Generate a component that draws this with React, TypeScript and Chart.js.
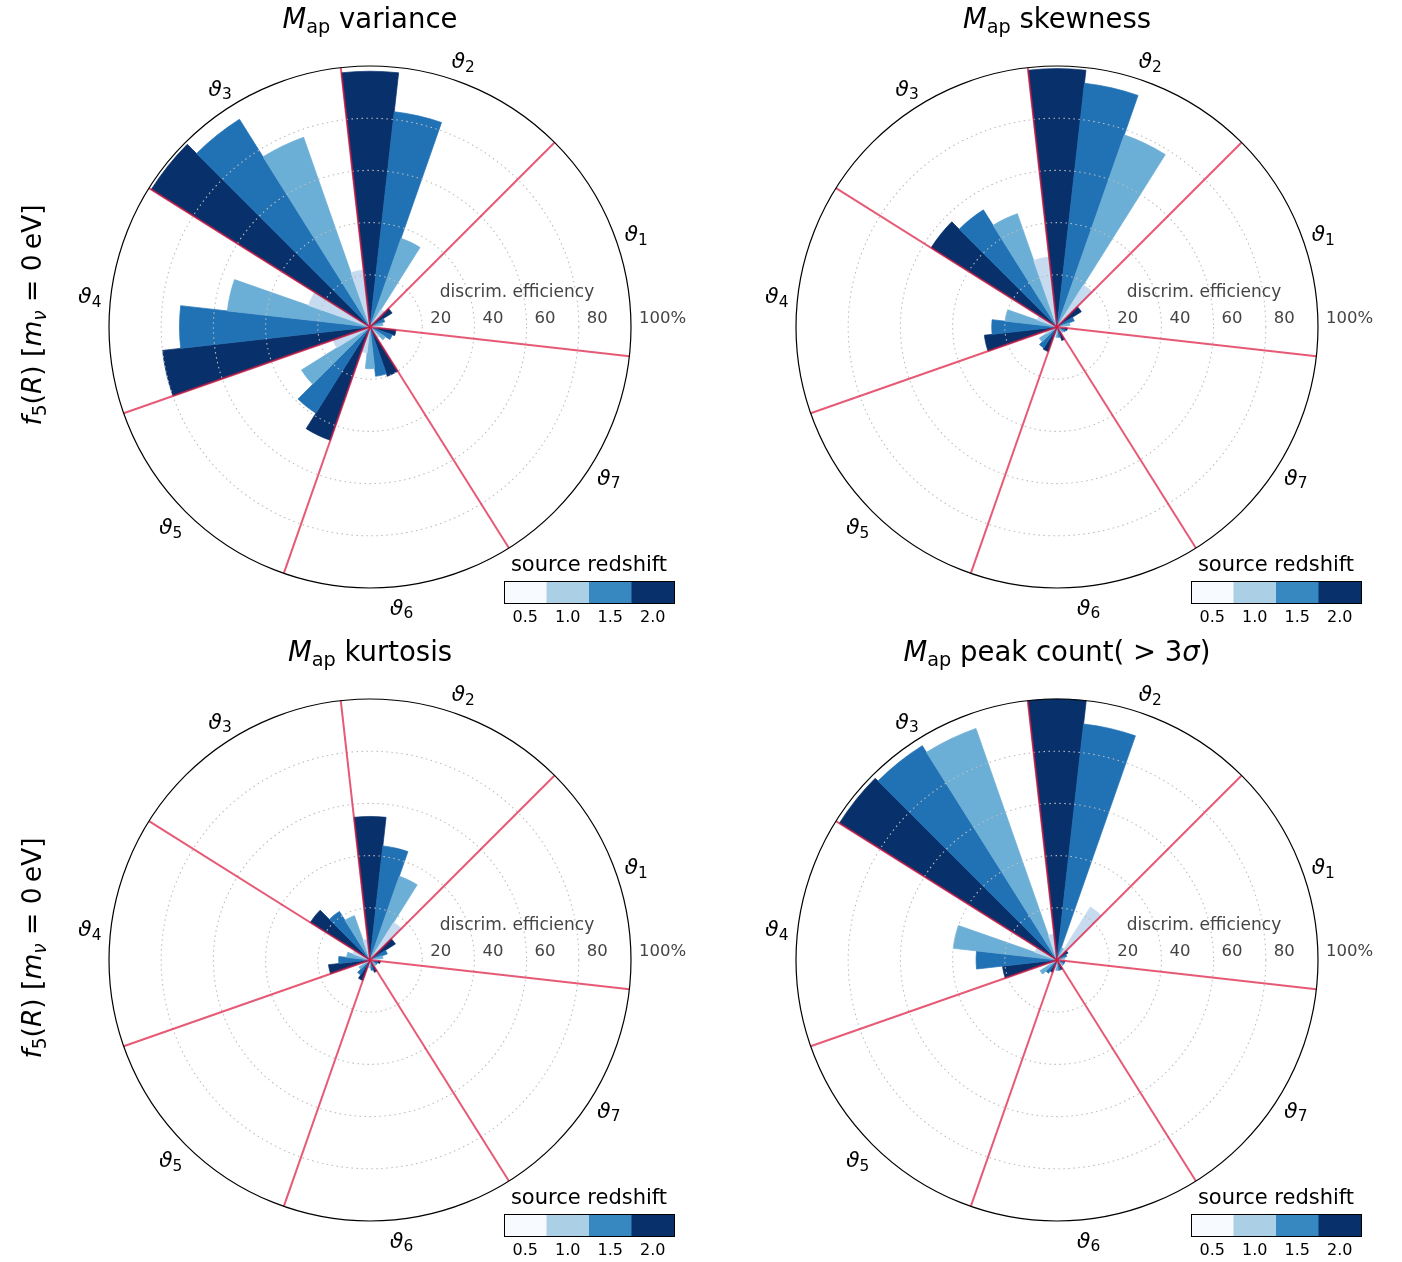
import React, { useEffect, useRef } from 'react';
import { Chart, registerables } from 'chart.js';

Chart.register(...registerables);

// ---------- data (discrimination efficiency in %) ----------
const sectorLabels = ['1', '2', '3', '4', '5', '6', '7'];
const redshiftLabels = ['0.5', '1.0', '1.5', '2.0'];
const radialTicks = [20, 40, 60, 80, 100];

// values per sector ϑ1..ϑ7
const varianceZ05 = [3, 8, 22, 25, 15, 10, 5];
const varianceZ10 = [5, 36, 77, 55, 31, 16, 7];
const varianceZ15 = [6, 83, 94, 73, 39, 19, 9];
const varianceZ20 = [10, 98, 99, 80, 46, 20, 10];

const skewnessZ05 = [3, 19, 27, 8, 5, 3, 3];
const skewnessZ10 = [5, 78, 46, 20, 8, 4, 3];
const skewnessZ15 = [7, 94, 53, 25, 9.5, 4, 3.5];
const skewnessZ20 = [11, 99, 57, 28, 10, 5.5, 4];

const kurtosisZ05 = [3, 17, 8, 7, 3, 3, 2];
const kurtosisZ10 = [5, 34, 18, 9, 5, 3, 3];
const kurtosisZ15 = [7, 44, 22, 12, 6.7, 4, 3];
const kurtosisZ20 = [11.5, 55, 27, 16, 8.3, 5, 4];

const peakZ05 = [3, 24, 10, 9, 3, 3, 2];
const peakZ10 = [3, 5, 94, 40, 7.7, 4, 3];
const peakZ15 = [4, 91, 97, 31, 6, 4, 3];
const peakZ20 = [5, 100, 98.5, 21, 5, 4, 3];

const barColors = ['#c6dbef', '#6baed6', '#2171b5', '#08306b'];
const cbarColors = ['#f7fbff', '#abd0e6', '#3787c0', '#08306b'];

const FONT = '"DejaVu Sans", "Liberation Sans", sans-serif';

type Piece = { t: string; it?: boolean; sub?: boolean };

function drawRich(
  ctx: CanvasRenderingContext2D,
  pieces: Piece[],
  x: number,
  y: number,
  size: number,
  align: 'left' | 'center',
  color: string
) {
  const fontOf = (p: Piece) =>
    `${p.it ? 'italic ' : ''}${p.sub ? size * 0.7 : size}px ${FONT}`;
  let total = 0;
  const widths = pieces.map((p) => {
    ctx.font = fontOf(p);
    const w = ctx.measureText(p.t).width;
    total += w;
    return w;
  });
  let cur = align === 'center' ? x - total / 2 : x;
  ctx.fillStyle = color;
  ctx.textAlign = 'left';
  ctx.textBaseline = 'alphabetic';
  pieces.forEach((p, i) => {
    ctx.font = fontOf(p);
    ctx.fillText(p.t, cur, y + (p.sub ? size * 0.17 : 0));
    cur += widths[i];
  });
}

const yLabelPieces: Piece[] = [
  { t: 'f', it: true },
  { t: '5', sub: true },
  { t: '(' },
  { t: 'R', it: true },
  { t: ') [' },
  { t: 'm', it: true },
  { t: 'ν', it: true, sub: true },
  { t: ' = 0\u2009eV]' },
];

function makeOverlay(title: Piece[], showYLabel: boolean) {
  return {
    id: 'overlay',
    afterDraw(chart: any) {
      const ctx: CanvasRenderingContext2D = chart.ctx;
      const r = chart.scales.r;
      const cx = r.xCenter;
      const cy = r.yCenter;
      const R = r.getDistanceFromCenterForValue(100);
      ctx.save();

      // sector separators
      ctx.strokeStyle = 'rgba(220,20,60,0.7)';
      ctx.lineWidth = 2;
      for (let k = 0; k < 7; k++) {
        const a = ((-360 / 56 + (k * 360) / 7) * Math.PI) / 180;
        ctx.beginPath();
        ctx.moveTo(cx, cy);
        ctx.lineTo(cx + R * Math.cos(a), cy - R * Math.sin(a));
        ctx.stroke();
      }

      // outer circle
      ctx.strokeStyle = '#000';
      ctx.lineWidth = 1.2;
      ctx.beginPath();
      ctx.arc(cx, cy, R, 0, Math.PI * 2);
      ctx.stroke();

      // theta labels
      sectorLabels.forEach((s, k) => {
        const a = (((k * 360) / 7 + 360 / 14 - 360 / 56) * Math.PI) / 180;
        const lx = cx + (R + 21) * Math.cos(a);
        const ly = cy - (R + 21) * Math.sin(a);
        drawRich(ctx, [{ t: 'ϑ', it: true }, { t: s, sub: true }], lx, ly + 7.5, 22, 'center', '#000');
      });

      // radial tick labels
      ctx.fillStyle = '#444';
      ctx.font = `16.5px ${FONT}`;
      ctx.textAlign = 'left';
      ctx.textBaseline = 'alphabetic';
      radialTicks.forEach((v) => {
        const x = cx + r.getDistanceFromCenterForValue(v) + 8;
        ctx.fillText(v === 100 ? '100%' : String(v), x, cy - 4);
      });
      ctx.font = `17px ${FONT}`;
      ctx.textAlign = 'center';
      ctx.fillText('discrim. efficiency', cx + 147, cy - 30.5);

      // title
      drawRich(ctx, title, cx, cy - 299, 27.5, 'center', '#000');

      // colour bar
      const x0 = cx + 134;
      const x1 = cx + 304;
      const y0 = cy + 254;
      const y1 = cy + 276;
      const cw = (x1 - x0) / cbarColors.length;
      cbarColors.forEach((c, i) => {
        ctx.fillStyle = c;
        ctx.fillRect(x0 + i * cw, y0, cw + 0.5, y1 - y0);
      });
      ctx.strokeStyle = '#000';
      ctx.lineWidth = 1;
      ctx.strokeRect(x0 + 0.5, y0 + 0.5, x1 - x0, y1 - y0);
      ctx.fillStyle = '#000';
      ctx.font = `21px ${FONT}`;
      ctx.textAlign = 'center';
      ctx.fillText('source redshift', (x0 + x1) / 2, cy + 244);
      ctx.font = `16px ${FONT}`;
      redshiftLabels.forEach((z, i) => {
        ctx.fillText(z, x0 + (i + 0.5) * cw, cy + 295);
      });

      // y label
      if (showYLabel) {
        ctx.save();
        ctx.translate(41, cy - 12);
        ctx.rotate(-Math.PI / 2);
        drawRich(ctx, yLabelPieces, 0, 0, 26.5, 'center', '#000');
        ctx.restore();
      }
      ctx.restore();
    },
  };
}

type PanelProps = {
  left: number;
  top: number;
  width: number;
  height: number;
  series: number[][];
  title: Piece[];
  showYLabel: boolean;
};

function Panel({ left, top, width, height, series, title, showYLabel }: PanelProps) {
  const ref = useRef<HTMLCanvasElement | null>(null);
  useEffect(() => {
    if (!ref.current) return;
    const labels: string[] = [];
    const values: number[] = [];
    const colors: string[] = [];
    // clockwise order (Chart.js) = reverse of the counter-clockwise sector order
    for (let s = sectorLabels.length - 1; s >= 0; s--) {
      for (let j = redshiftLabels.length - 1; j >= 0; j--) {
        labels.push(`ϑ${sectorLabels[s]} z=${redshiftLabels[j]}`);
        values.push(series[j][s]);
        colors.push(barColors[j]);
      }
    }
    const R = 261;
    const cx = 370;
    const cy = 327;
    const chart = new Chart(ref.current, {
      type: 'polarArea',
      data: {
        labels,
        datasets: [
          {
            data: values,
            backgroundColor: colors,
            borderColor: colors,
            borderWidth: 0.7,
          },
        ],
      },
      options: {
        responsive: false,
        animation: false,
        events: [],
        layout: {
          padding: {
            left: cx - R,
            top: cy - R,
            right: width - (cx + R),
            bottom: height - (cy + R),
          },
        },
        plugins: {
          legend: { display: false },
          tooltip: { enabled: false },
        },
        scales: {
          r: {
            min: 0,
            max: 100,
            startAngle: 90 + 360 / 56,
            ticks: { display: false, stepSize: 20 },
            grid: {
              circular: true,
              z: 1,
              lineWidth: 1.1,
              color: (c: any) => (c.tick && c.tick.value === 100 ? 'rgba(0,0,0,0)' : '#bdbdbd'),
            },
            border: { dash: [1.5, 3.5] },
            angleLines: { display: false },
            pointLabels: { display: false },
          },
        },
      } as any,
      plugins: [makeOverlay(title, showYLabel)],
    });
    return () => chart.destroy();
  }, []);
  return (
    <canvas
      ref={ref}
      width={width}
      height={height}
      style={{ position: 'absolute', left, top, width, height, display: 'block' }}
    />
  );
}

export default function App() {
  return (
    <div
      style={{
        position: 'absolute',
        left: 0,
        top: 0,
        width: 1402,
        height: 1262,
        background: '#fff',
        overflow: 'hidden',
      }}
    >
      <Panel
        left={0}
        top={0}
        width={687}
        height={633}
        series={[varianceZ05, varianceZ10, varianceZ15, varianceZ20]}
        title={[{ t: 'M', it: true }, { t: 'ap', sub: true }, { t: ' variance' }]}
        showYLabel={true}
      />
      <Panel
        left={687}
        top={0}
        width={715}
        height={633}
        series={[skewnessZ05, skewnessZ10, skewnessZ15, skewnessZ20]}
        title={[{ t: 'M', it: true }, { t: 'ap', sub: true }, { t: ' skewness' }]}
        showYLabel={false}
      />
      <Panel
        left={0}
        top={633}
        width={687}
        height={629}
        series={[kurtosisZ05, kurtosisZ10, kurtosisZ15, kurtosisZ20]}
        title={[{ t: 'M', it: true }, { t: 'ap', sub: true }, { t: ' kurtosis' }]}
        showYLabel={true}
      />
      <Panel
        left={687}
        top={633}
        width={715}
        height={629}
        series={[peakZ05, peakZ10, peakZ15, peakZ20]}
        title={[
          { t: 'M', it: true },
          { t: 'ap', sub: true },
          { t: ' peak count( > 3' },
          { t: 'σ', it: true },
          { t: ')' },
        ]}
        showYLabel={false}
      />
    </div>
  );
}
